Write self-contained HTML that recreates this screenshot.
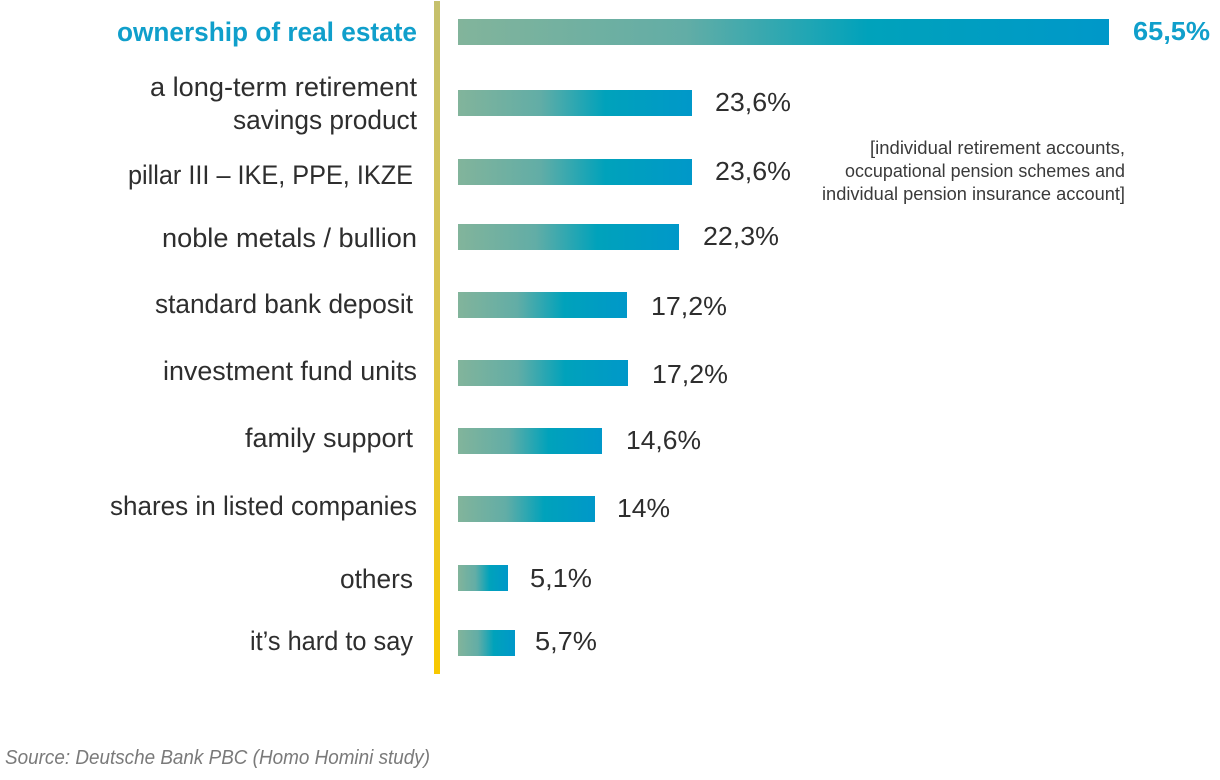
<!DOCTYPE html>
<html>
<head>
<meta charset="utf-8">
<style>
  html, body { margin: 0; padding: 0; background: #ffffff; }
  svg { display: block; }
  .lbl { font-family: "Liberation Sans", sans-serif; font-size: 27px; fill: #2e2e2e; }
  .val { font-family: "Liberation Sans", sans-serif; font-size: 26px; fill: #2e2e2e; }
  .hl { fill: #109fcb; font-weight: bold; }
  .note { font-family: "Liberation Sans", sans-serif; font-size: 18px; fill: #3a3a3a; }
  .src { font-family: "Liberation Sans", sans-serif; font-size: 20px; fill: #7a7a7a; font-style: italic; }
</style>
</head>
<body>
<svg width="1220" height="780" viewBox="0 0 1220 780" xmlns="http://www.w3.org/2000/svg">
  <defs>
    <linearGradient id="bar" x1="0" y1="0" x2="1" y2="0">
      <stop offset="0" stop-color="#82b49b"/>
      <stop offset="0.35" stop-color="#62ada6"/>
      <stop offset="0.63" stop-color="#00a2bb"/>
      <stop offset="1" stop-color="#0098c9"/>
    </linearGradient>
    <linearGradient id="axis" x1="0" y1="0" x2="0" y2="1">
      <stop offset="0" stop-color="#c5c06c"/>
      <stop offset="0.5" stop-color="#dcc34a"/>
      <stop offset="1" stop-color="#f8c800"/>
    </linearGradient>
  </defs>

  <!-- vertical axis line -->
  <rect x="434" y="1" width="6" height="673" fill="url(#axis)"/>

  <!-- bars -->
  <rect x="458" y="19" width="651" height="26" fill="url(#bar)"/>
  <rect x="458" y="90" width="234" height="26" fill="url(#bar)"/>
  <rect x="458" y="159" width="234" height="26" fill="url(#bar)"/>
  <rect x="458" y="224" width="221" height="26" fill="url(#bar)"/>
  <rect x="458" y="292" width="169" height="26" fill="url(#bar)"/>
  <rect x="458" y="360" width="170" height="26" fill="url(#bar)"/>
  <rect x="458" y="428" width="144" height="26" fill="url(#bar)"/>
  <rect x="458" y="496" width="137" height="26" fill="url(#bar)"/>
  <rect x="458" y="565" width="50" height="26" fill="url(#bar)"/>
  <rect x="458" y="630" width="57" height="26" fill="url(#bar)"/>

  <!-- category labels -->
  <text class="lbl hl" x="117" y="41" textLength="300" lengthAdjust="spacingAndGlyphs">ownership of real estate</text>
  <text class="lbl" x="150" y="96" textLength="267" lengthAdjust="spacingAndGlyphs">a long-term retirement</text>
  <text class="lbl" x="233" y="129" textLength="184" lengthAdjust="spacingAndGlyphs">savings product</text>
  <text class="lbl" x="128" y="184" textLength="285" lengthAdjust="spacingAndGlyphs">pillar III – IKE, PPE, IKZE</text>
  <text class="lbl" x="162" y="247" textLength="255" lengthAdjust="spacingAndGlyphs">noble metals / bullion</text>
  <text class="lbl" x="155" y="313" textLength="258" lengthAdjust="spacingAndGlyphs">standard bank deposit</text>
  <text class="lbl" x="163" y="380" textLength="254" lengthAdjust="spacingAndGlyphs">investment fund units</text>
  <text class="lbl" x="245" y="447" textLength="168" lengthAdjust="spacingAndGlyphs">family support</text>
  <text class="lbl" x="110" y="515" textLength="307" lengthAdjust="spacingAndGlyphs">shares in listed companies</text>
  <text class="lbl" x="340" y="588" textLength="73" lengthAdjust="spacingAndGlyphs">others</text>
  <text class="lbl" x="250" y="650" textLength="163" lengthAdjust="spacingAndGlyphs">it’s hard to say</text>

  <!-- values -->
  <text class="val hl" x="1133" y="40" textLength="77" lengthAdjust="spacingAndGlyphs">65,5%</text>
  <text class="val" x="715" y="111" textLength="76" lengthAdjust="spacingAndGlyphs">23,6%</text>
  <text class="val" x="715" y="180" textLength="76" lengthAdjust="spacingAndGlyphs">23,6%</text>
  <text class="val" x="703" y="245" textLength="76" lengthAdjust="spacingAndGlyphs">22,3%</text>
  <text class="val" x="651" y="315" textLength="76" lengthAdjust="spacingAndGlyphs">17,2%</text>
  <text class="val" x="652" y="383" textLength="76" lengthAdjust="spacingAndGlyphs">17,2%</text>
  <text class="val" x="626" y="449" textLength="75" lengthAdjust="spacingAndGlyphs">14,6%</text>
  <text class="val" x="617" y="517" textLength="53" lengthAdjust="spacingAndGlyphs">14%</text>
  <text class="val" x="530" y="587" textLength="62" lengthAdjust="spacingAndGlyphs">5,1%</text>
  <text class="val" x="535" y="650" textLength="62" lengthAdjust="spacingAndGlyphs">5,7%</text>

  <!-- annotation -->
  <text class="note" x="870" y="154" textLength="255" lengthAdjust="spacingAndGlyphs">[individual retirement accounts,</text>
  <text class="note" x="845" y="177" textLength="280" lengthAdjust="spacingAndGlyphs">occupational pension schemes and</text>
  <text class="note" x="822" y="200" textLength="303" lengthAdjust="spacingAndGlyphs">individual pension insurance account]</text>

  <!-- source -->
  <text class="src" x="5" y="764" textLength="425" lengthAdjust="spacingAndGlyphs">Source: Deutsche Bank PBC (Homo Homini study)</text>
</svg>
</body>
</html>
